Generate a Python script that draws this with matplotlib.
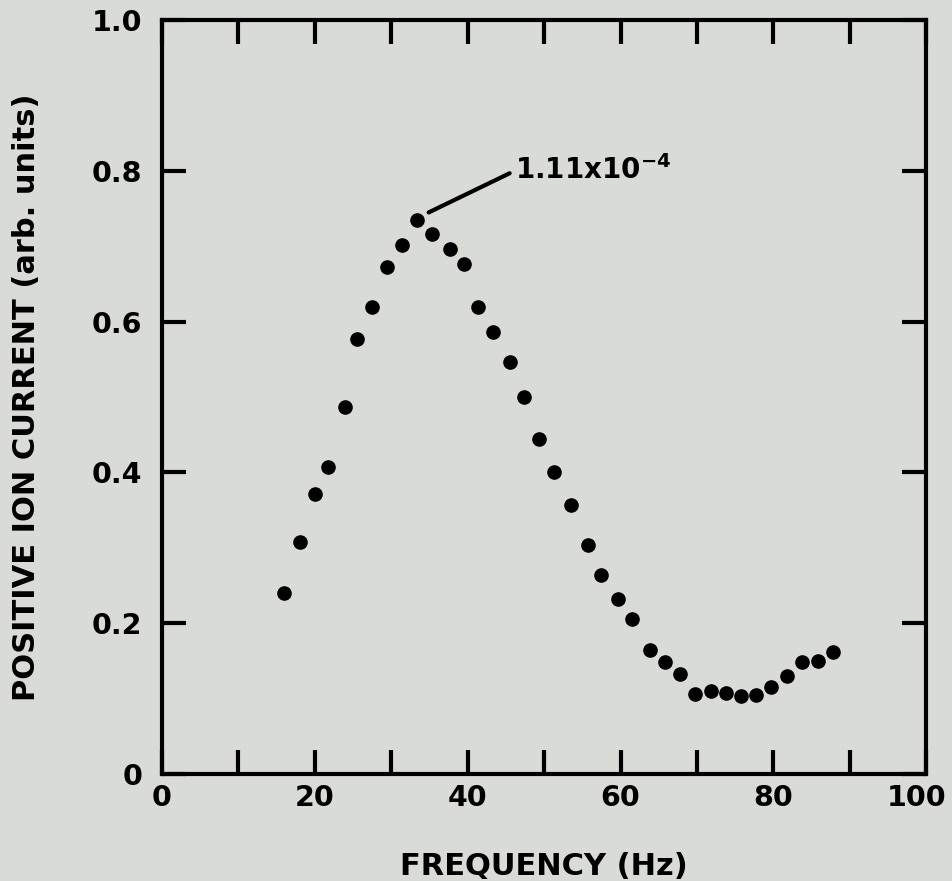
import matplotlib
matplotlib.use("Agg")
import matplotlib.pyplot as plt
import matplotlib.transforms as mtransforms

plt.rcParams['font.family'] = ['DejaVu Sans']
plt.rcParams['font.weight'] = 'bold'
plt.rcParams['axes.labelweight'] = 'bold'
plt.rcParams['mathtext.fontset'] = 'dejavusans'
plt.rcParams['mathtext.default'] = 'bf'

# frequency (Hz) and positive ion current (arb. units)
freq = [16.0, 18.1, 20.0, 21.8, 23.9, 25.5, 27.5, 29.5, 31.4, 33.4,
        35.4, 37.7, 39.5, 41.4, 43.3, 45.5, 47.4, 49.4, 51.3, 53.5,
        55.7, 57.5, 59.7, 61.5, 63.8, 65.8, 67.8, 69.8, 71.8, 73.8,
        75.7, 77.7, 79.7, 81.8, 83.8, 85.8, 87.8]
current = [0.240, 0.308, 0.371, 0.407, 0.487, 0.577, 0.620, 0.672, 0.702, 0.735,
           0.717, 0.697, 0.676, 0.620, 0.586, 0.547, 0.500, 0.444, 0.400, 0.357,
           0.304, 0.264, 0.232, 0.206, 0.164, 0.149, 0.133, 0.106, 0.110, 0.108,
           0.103, 0.105, 0.116, 0.130, 0.148, 0.150, 0.162]

xticks = [0, 20, 40, 60, 80, 100]
yticks = [0, 0.2, 0.4, 0.6, 0.8, 1.0]
ytick_labels = ['0', '0.2', '0.4', '0.6', '0.8', '1.0']
peak_label = '1.11x10$^{-4}$'

bg = '#d9dbd7'
fig = plt.figure(figsize=(9.52, 8.81), dpi=100, facecolor=bg)
ax = fig.add_axes([0.170, 0.1215, 0.803, 0.8555], facecolor=bg)

ax.plot(freq, current, 'o', color='black', ms=9.5, mec='black')

ax.set_xlim(0, 100)
ax.set_ylim(0, 1.0)
ax.set_xticks(xticks)
ax.set_xticks(range(10, 100, 20), minor=True)
ax.set_yticks(yticks)
ax.set_yticklabels(ytick_labels)

for s in ax.spines.values():
    s.set_linewidth(3)

ax.tick_params(which='both', direction='in', top=True, right=True,
               width=3, length=17, labelsize=20.5)
ax.tick_params(axis='x', pad=7)
ax.tick_params(axis='y', pad=14)

# keep "100" inside the canvas
last = ax.get_xticklabels()[-1]
last.set_transform(last.get_transform() +
                   mtransforms.ScaledTranslation(-7 / 72, 0, fig.dpi_scale_trans))

ax.set_xlabel('FREQUENCY (Hz)', fontsize=22)
ax.set_ylabel('POSITIVE ION CURRENT (arb. units)', fontsize=22)
ax.xaxis.set_label_coords(0.5, -0.104)
ax.yaxis.set_label_coords(-0.158, 0.5)

ax.plot([34.9, 45.5], [0.745, 0.797], color='black', lw=3, solid_capstyle='round')
ax.text(46.2, 0.801, peak_label, fontsize=20, va='center', ha='left')

fig.savefig('out.png', dpi=100, facecolor=bg)
